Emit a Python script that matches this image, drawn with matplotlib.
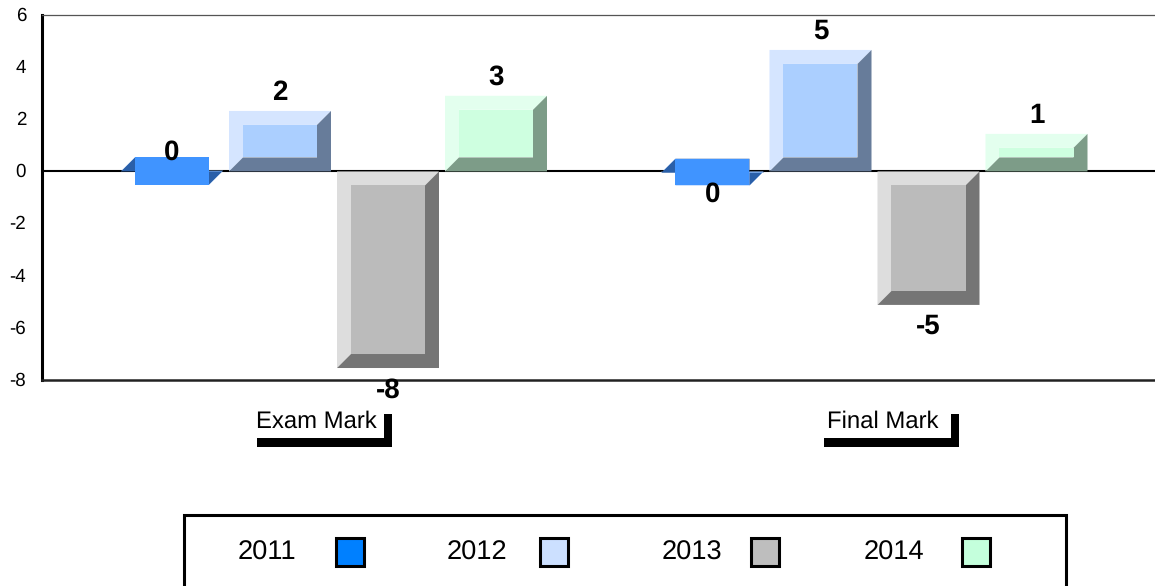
"""Bevelled bar chart: exam and final mark by year."""
import matplotlib
matplotlib.use("Agg")
matplotlib.rcParams["font.family"] = ["Liberation Sans", "DejaVu Sans"]
matplotlib.rcParams["axes.unicode_minus"] = False
matplotlib.rcParams["text.hinting"] = "no_hinting"
import matplotlib.pyplot as plt
from matplotlib.patches import Polygon, Rectangle
from matplotlib.transforms import ScaledTranslation

categories = ["Exam Mark", "Final Mark"]
years = ["2011", "2012", "2013", "2014"]
values_2011 = [0.03, -0.05]
values_2012 = [2.32, 4.66]
values_2013 = [-7.54, -5.12]
values_2014 = [2.9, 1.44]
series = [values_2011, values_2012, values_2013, values_2014]
y_ticks = [-8, -6, -4, -2, 0, 2, 4, 6]

swatch_colors = ["#0080FF", "#CCE0FF", "#BEBEBE", "#C4FFDC"]
face_colors = ["#4094FF", "#ABCFFF", "#BBBBBB", "#CEFFE0"]
light_colors = ["#8CBDFF", "#D5E5FF", "#DDDDDD", "#E3FFEE"]
dark_colors = ["#2A5FA8", "#677C9A", "#757575", "#7D9C88"]

W, H = 1155, 586
fig = plt.figure(figsize=(W / 100, H / 100), dpi=100)
ax = fig.add_axes([42 / W, 1 - 380 / H, (W - 42) / W, 365 / H])

# x에서 카테고리 한 칸 = 540.5 px, y 한 칸 = 26.07 px
px_x = 1 / 540.5
px_y = 14 / 365
ax.set_xlim((42 - 334) * px_x, (1155 - 334) * px_x)
ax.set_ylim(-8, 6)
bar_w = 102 * px_x
step = 108 * px_x
bev_x = 14 * px_x
bev_y = 14 * px_y


def bevel_bar(ax, x, v, i):
    x0, x1 = x - bar_w / 2, x + bar_w / 2
    y0, y1 = min(v, 0), max(v, 0)
    ix0, ix1 = x0 + bev_x, x1 - bev_x
    iy0, iy1 = y0 + bev_y, y1 - bev_y
    light = [(x0, y1), (x1, y1), (ix1, iy1), (ix0, iy1), (ix0, iy0), (x0, y0)]
    dark = [(x0, y0), (x1, y0), (x1, y1), (ix1, iy1), (ix1, iy0), (ix0, iy0)]
    ax.add_patch(Polygon(light, fc=light_colors[i], ec="none", zorder=3))
    ax.add_patch(Polygon(dark, fc=dark_colors[i], ec="none", zorder=3))
    ax.add_patch(Rectangle((ix0, iy0), ix1 - ix0, iy1 - iy0, fc=face_colors[i],
                           ec="none", zorder=4))


ax.axhline(0, color="black", lw=1.5, zorder=2)
for i, vals in enumerate(series):
    for c, v in enumerate(vals):
        x = c + (i - 1.5) * step
        bevel_bar(ax, x, v, i)
        off = 18 if v >= 0 else -22
        ax.annotate(f"{round(v)}", (x, v), xytext=(0, off * 0.72),
                    textcoords="offset points", ha="center", va="center",
                    fontsize=20, fontweight="bold", zorder=5, annotation_clip=False)

ax.set_yticks(y_ticks)
ax.set_xticks([])
ax.tick_params(axis="y", length=0, pad=11.5, labelsize=13.5)
shift_up = ScaledTranslation(0, 1 / 100, fig.dpi_scale_trans)
for lab in ax.get_yticklabels():
    lab.set_transform(lab.get_transform() + shift_up)
ax.spines["right"].set_visible(False)
ax.spines["left"].set_linewidth(2.2)
ax.spines["bottom"].set_linewidth(1.8)
ax.spines["bottom"].set_color("#222222")
ax.spines["top"].set_linewidth(0.9)
ax.spines["top"].set_color("#555555")

# 카테고리 라벨과 범례는 픽셀 좌표 오버레이로
ov = fig.add_axes([0, 0, 1, 1], zorder=10)
ov.set_xlim(0, W)
ov.set_ylim(H, 0)
ov.axis("off")
ov.patch.set_alpha(0)

label_x = [316.5, 883]
shadow_x = [257, 824]
for name, tx, sx in zip(categories, label_x, shadow_x):
    ov.text(tx, 421.5, name, ha="center", va="center", fontsize=17.2)
    ov.add_patch(Rectangle((sx, 438), 135, 8.5, fc="black", ec="none"))
    ov.add_patch(Rectangle((sx + 127, 414), 8, 32.5, fc="black", ec="none"))

ov.add_patch(Rectangle((184, 515), 881.5, 90, fc="white", ec="black", lw=2.2, clip_on=True))
text_x = [267, 477, 691.5, 894]
swatch_x = [335.5, 539.5, 751, 962]
for yr, tx, sx, col in zip(years, text_x, swatch_x, swatch_colors):
    ov.text(tx, 553, yr, ha="center", va="center", fontsize=19.6)
    ov.add_patch(Rectangle((sx, 537.5), 28, 28, fc=col, ec="black", lw=2.2))

fig.savefig("out.png", dpi=100)
